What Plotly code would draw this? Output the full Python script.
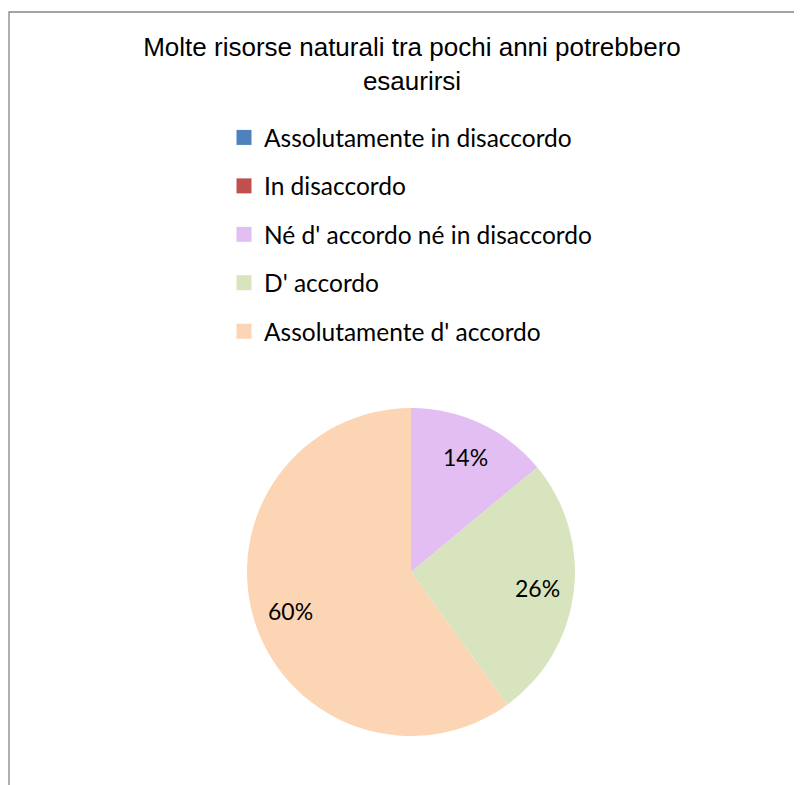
import math
import plotly.graph_objects as go

title_text = "Molte risorse naturali tra pochi anni potrebbero<br>esaurirsi"
categories = [
    "Assolutamente in disaccordo",
    "In disaccordo",
    "Né d' accordo né in disaccordo",
    "D' accordo",
    "Assolutamente d' accordo",
]
values = [0, 0, 14, 26, 60]
colors = ["#4F81BD", "#C0504D", "#E2BEF2", "#D7E4BD", "#FCD5B5"]

W, H = 802, 785
OFF = 8  # page body margin

# pie domain (pixels in figure coordinates)
px0, px1 = 247 - OFF, 575 - OFF
py_top, py_bot = 408 - OFF, 736 - OFF
dom_x = [px0 / W, px1 / W]
dom_y = [(H - py_bot) / H, (H - py_top) / H]

fig = go.Figure()
fig.add_trace(go.Pie(
    labels=categories,
    values=values,
    marker=dict(colors=colors, line=dict(width=0)),
    sort=False,
    direction="clockwise",
    rotation=0,
    textinfo="none",
    showlegend=False,
    domain=dict(x=dom_x, y=dom_y),
    hoverinfo="label+percent",
))

# percentage labels, placed at the slice mid-angle (Excel-like)
cx = (px0 + px1) / 2
cy = (py_top + py_bot) / 2
r = (px1 - px0) / 2
total = sum(values)
cum = 0
annotations = []
for v in values:
    if v > 0:
        mid = (cum + v / 2) / total * 2 * math.pi
        lx = cx + 0.775 * r * math.sin(mid)
        ly = cy - 0.775 * r * math.cos(mid)
        annotations.append(dict(
            x=lx / W, y=1 - ly / H, xref="paper", yref="paper",
            text=f"{round(v / total * 100)}%", showarrow=False,
            xanchor="center", yanchor="middle",
            font=dict(family="Lato", size=23, color="black")))
    cum += v

# legend entries (one per category)
for cat, col in zip(categories, colors):
    fig.add_trace(go.Scatter(
        x=[None], y=[None], mode="markers", name=cat, legendgroup=cat,
        marker=dict(symbol="square", size=15, color=col),
        showlegend=True,
    ))

fig.update_layout(
    width=W, height=H,
    margin=dict(l=0, r=0, t=0, b=0),
    paper_bgcolor="white", plot_bgcolor="white",
    xaxis=dict(visible=False), yaxis=dict(visible=False),
    title=dict(text=title_text, x=(412 - OFF) / W, xanchor="center",
               y=1 - 48 / H, yanchor="top",
               font=dict(family="Liberation Sans, Arial", size=26, color="black")),
    legend=dict(x=216 / W, xanchor="left", y=1 - 107 / H, yanchor="top",
                font=dict(family="Lato", size=24.5, color="black"),
                tracegroupgap=13.6, itemwidth=30, bgcolor="rgba(0,0,0,0)"),
    annotations=annotations,
    shapes=[dict(type="rect", xref="paper", yref="paper",
                 x0=1 / W, x1=1.05, y0=-0.05, y1=1 - (12 - OFF) / H,
                 line=dict(color="#878787", width=1.3), layer="below")],
)

fig.write_html("out.html")
